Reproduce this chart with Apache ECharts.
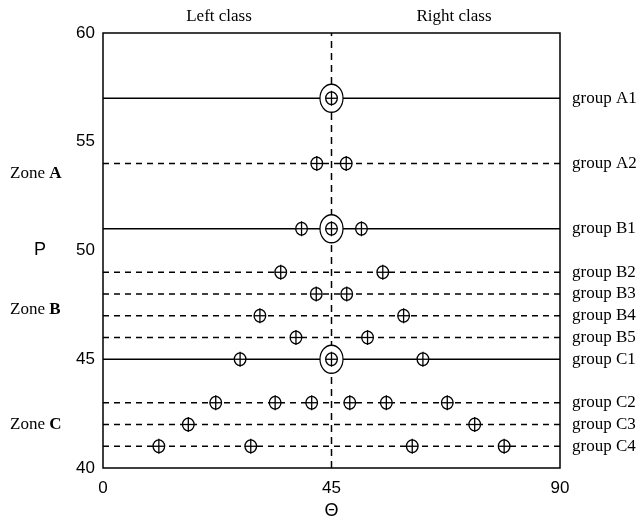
<!DOCTYPE html>
<html>
<head>
<meta charset="utf-8">
<script src="https://cdn.jsdelivr.net/npm/echarts@6/dist/echarts.min.js"></script>
<style>html,body{margin:0;padding:0;background:#fff}#c{width:642px;height:521px}</style>
</head>
<body>
<div id="c"></div>
<script>
// ---- data ----
const groupNames = ['group A1','group A2','group B1','group B2','group B3','group B4','group B5','group C1','group C2','group C3','group C4'];
const groupLevels = [57, 54, 51, 49, 48, 47, 46, 45, 43, 42, 41];
const groupSolid = [true, false, true, false, false, false, false, true, false, false, false];
const groupPoints = [
  [45],
  [42.1, 47.9],
  [39.1, 45, 50.9],
  [35, 55.1],
  [42, 48],
  [30.9, 59.2],
  [38, 52.1],
  [27, 45, 63],
  [22.2, 33.9, 41.1, 48.6, 55.8, 67.8],
  [16.8, 73.2],
  [11, 29.1, 60.9, 79]
];
const centerRings = [[45, 57], [45, 51], [45, 45]];
const centerLine = [[45, 40], [45, 60]];
const xTicks = [0, 45, 90];
const yTicks = [40, 45, 50, 55, 60];
const zones = [{name:'A', y:53.55}, {name:'B', y:47.3}, {name:'C', y:42.0}];

// ---- build ----
const serif = '"Liberation Serif","Times New Roman",serif';
const sans = '"Liberation Sans Narrow","Liberation Sans",Arial,sans-serif';
const series = [];

groupNames.forEach((n, i) => {
  series.push({
    type: 'line', name: n,
    data: [[xTicks[0], groupLevels[i]], [xTicks[xTicks.length-1], groupLevels[i]]],
    symbol: 'none', silent: true, animation: false, z: 2,
    lineStyle: {color: '#000', width: 1.5, type: groupSolid[i] ? 'solid' : [6, 5]},
    endLabel: {show: true, formatter: n, color: '#000', fontFamily: serif, fontSize: 17, distance: 12}
  });
});

series.push({
  type: 'line', data: centerLine, symbol: 'none', silent: true, animation: false, z: 3,
  lineStyle: {color: '#000', width: 1.5, type: [7, 5]}
});

const markerData = [];
groupPoints.forEach((pts, i) => pts.forEach(x => markerData.push([x, groupLevels[i]])));

series.push({
  type: 'custom', z: 5, animation: false, silent: true,
  data: centerRings,
  renderItem: function (params, api) {
    const p = api.coord([api.value(0), api.value(1)]);
    return {type: 'circle', x: p[0], y: p[1], scaleY: 1.22,
      shape: {cx: 0, cy: 0, r: 11.5},
      style: {fill: '#fff', stroke: '#000', lineWidth: 1.2}};
  }
});

series.push({
  type: 'custom', z: 6, animation: false, silent: true,
  data: markerData,
  renderItem: function (params, api) {
    const p = api.coord([api.value(0), api.value(1)]);
    return {type: 'group', children: [
      {type: 'circle', x: p[0], y: p[1], scaleY: 1.1, shape: {cx: 0, cy: 0, r: 5.8},
        style: {fill: '#fff', stroke: '#000', lineWidth: 1.3}},
      {type: 'line', shape: {x1: p[0], y1: p[1] - 7.5, x2: p[0], y2: p[1] + 7.5},
        style: {stroke: '#000', lineWidth: 1.3}},
      {type: 'line', shape: {x1: p[0] - 6, y1: p[1], x2: p[0] + 6, y2: p[1]},
        style: {stroke: '#000', lineWidth: 1.3}}
    ]};
  }
});

const chart = echarts.init(document.getElementById('c'), null, {renderer: 'canvas'});
const gridTop = 33, gridBottom = 53, gridH = 521 - gridTop - gridBottom;
const yMin = yTicks[0], yMax = yTicks[yTicks.length-1];
const zoneGraphics = zones.map(z => ({
  type: 'text', x: 10,
  y: gridTop + (yMax - z.y) / (yMax - yMin) * gridH,
  style: {text: '{n|Zone }{b|' + z.name + '}', verticalAlign: 'middle', rich: {
    n: {fontFamily: serif, fontSize: 17, fill: '#000'},
    b: {fontFamily: serif, fontSize: 17, fontWeight: 'bold', fill: '#000'}
  }}
}));

chart.setOption({
  backgroundColor: '#fff',
  animation: false,
  grid: {left: 103, right: 82, top: gridTop, bottom: gridBottom, outerBoundsMode: 'none', containLabel: false,
    show: true, borderColor: '#000', borderWidth: 1.5, backgroundColor: 'transparent'},
  xAxis: {
    type: 'value', min: xTicks[0], max: xTicks[xTicks.length-1], interval: 45,
    name: 'Θ', nameLocation: 'middle', nameGap: 32,
    nameTextStyle: {color: '#000', fontFamily: sans, fontSize: 18},
    axisLine: {show: false}, axisTick: {show: false}, splitLine: {show: false},
    axisLabel: {color: '#000', fontFamily: sans, fontSize: 17, margin: 12}
  },
  yAxis: {
    type: 'value', min: yMin, max: yMax, interval: 5,
    name: 'P', nameLocation: 'middle', nameGap: 57, nameRotate: 0,
    nameTextStyle: {color: '#000', fontFamily: sans, fontSize: 18},
    axisLine: {show: false}, axisTick: {show: false}, splitLine: {show: false},
    axisLabel: {color: '#000', fontFamily: sans, fontSize: 17, margin: 8}
  },
  graphic: [
    {type: 'text', x: 219, y: 17, style: {text: 'Left class', fontFamily: serif, fontSize: 17, fill: '#000', align: 'center', verticalAlign: 'middle'}},
    {type: 'text', x: 454, y: 17, style: {text: 'Right class', fontFamily: serif, fontSize: 17, fill: '#000', align: 'center', verticalAlign: 'middle'}}
  ].concat(zoneGraphics),
  series: series
});
</script>
</body>
</html>
